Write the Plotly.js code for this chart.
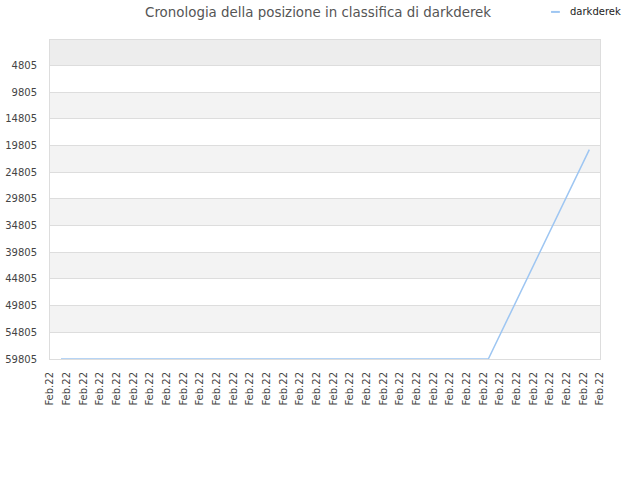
<!DOCTYPE html>
<html>
<head>
<meta charset="utf-8">
<script src="https://cdn.plot.ly/plotly-3.0.1.min.js"></script>
<style>
  html, body { margin: 0; padding: 0; background: #fff; }
  #myDiv { width: 640px; height: 480px; }
</style>
</head>
<body>
<div id="myDiv"></div>
<script>
// ranking of darkderek over time (x = position along the date axis)
var playerName = 'darkderek';
var dayIndex = [0.66, 26.3, 32.36];
var rankValues = [59805, 59805, 20550];

// axis labels
var xLabelCount = 34;
var xLabel = 'Feb.22';
var rankTicks = [4805, 9805, 14805, 19805, 24805, 29805, 34805, 39805, 44805, 49805, 54805, 59805];
var rankTop = 0;

var tickVals = [];
var tickText = [];
for (var i = 0; i < xLabelCount; i++) {
  tickVals.push(i);
  tickText.push(xLabel);
}
var rankText = rankTicks.map(function(v) { return String(v); });

// alternating background bands between the y ticks
var shapes = [];
var edges = [rankTop].concat(rankTicks);
for (var k = 0; k < edges.length - 1; k++) {
  var fill = null;
  if (k == 0) fill = '#ededed';
  else if (k % 2 == 0) fill = '#f3f3f3';
  if (!fill) continue;
  shapes.push({
    type: 'rect', layer: 'below', xref: 'paper', yref: 'y',
    x0: 0, x1: 1, y0: edges[k], y1: edges[k + 1],
    fillcolor: fill, line: {width: 0}
  });
}

// legend sample
shapes.push({
  type: 'line', xref: 'paper', yref: 'paper',
  x0: 0.911, x1: 0.927, y0: 1.088, y1: 1.088,
  line: {color: '#9ec6f2', width: 2}
});

var trace = {
  x: dayIndex,
  y: rankValues,
  type: 'scatter',
  mode: 'lines',
  name: playerName,
  line: {color: '#9ec6f2', width: 1.5},
  hoverinfo: 'none'
};

var layout = {
  width: 640,
  height: 480,
  margin: {l: 50, r: 40, t: 40, b: 121},
  paper_bgcolor: '#ffffff',
  plot_bgcolor: '#ffffff',
  showlegend: false,
  font: {family: 'DejaVu Sans', size: 10, color: '#444'},
  title: {
    text: 'Cronologia della posizione in classifica di ' + playerName,
    font: {family: 'DejaVu Sans', size: 13.4, color: '#555'},
    xref: 'container', x: 0.497, xanchor: 'center',
    yref: 'container', y: 0.975, yanchor: 'middle'
  },
  xaxis: {
    range: [0, xLabelCount - 1],
    tickmode: 'array',
    tickvals: tickVals,
    ticktext: tickText,
    tickangle: -90,
    showgrid: false,
    zeroline: false,
    showline: true,
    linecolor: '#dddddd',
    mirror: true,
    ticks: '',
    ticklabelstandoff: 8,
    tickfont: {size: 10, color: '#444'}
  },
  yaxis: {
    range: [rankTicks[rankTicks.length - 1], rankTop],
    tickmode: 'array',
    tickvals: rankTicks,
    ticktext: rankText,
    showgrid: true,
    gridcolor: '#dddddd',
    zeroline: false,
    showline: true,
    linecolor: '#dddddd',
    mirror: true,
    ticks: '',
    ticklabelstandoff: 10,
    tickfont: {size: 10, color: '#444'}
  },
  shapes: shapes,
  annotations: [{
    xref: 'paper', yref: 'paper',
    x: 0.941, y: 1.088, xanchor: 'left', yanchor: 'middle',
    text: playerName, showarrow: false,
    font: {family: 'DejaVu Sans', size: 10, color: '#222'}
  }]
};

Plotly.newPlot('myDiv', [trace], layout, {displayModeBar: false, staticPlot: true});
</script>
</body>
</html>
